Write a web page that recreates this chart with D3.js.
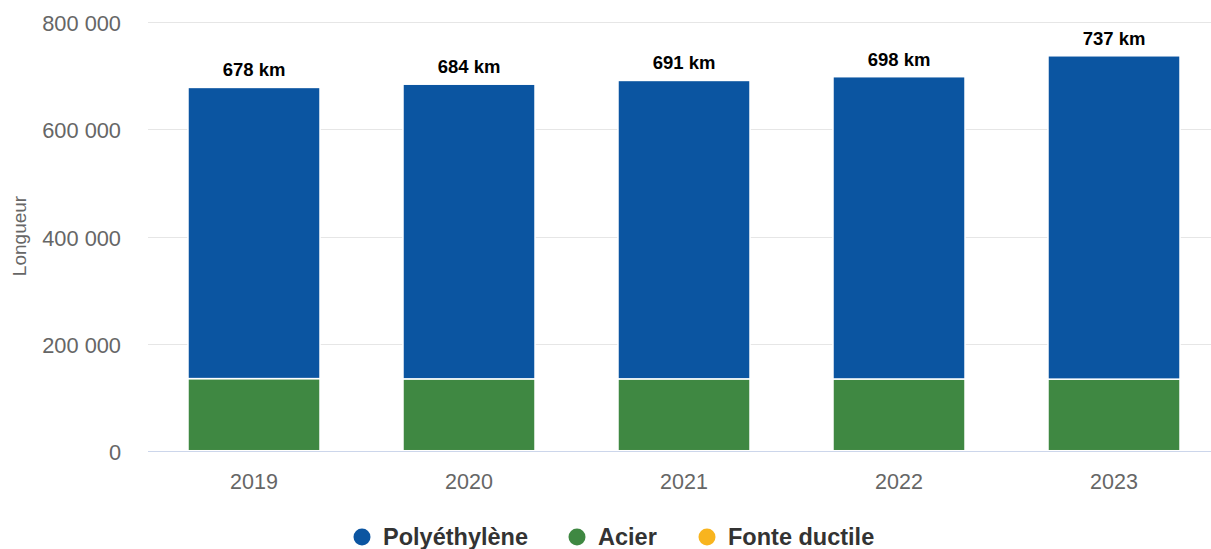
<!DOCTYPE html>
<html>
<head>
<meta charset="utf-8">
<script src="https://cdn.jsdelivr.net/npm/d3@7"></script>
<style>
  body { margin: 0; background: #fff; }
  svg { display: block; font-family: "Liberation Sans", Arial, sans-serif; }
</style>
</head>
<body>
<svg id="chart" width="1211" height="549"></svg>
<script>
// Data
var years = ["2019", "2020", "2021", "2022", "2023"];
var polyethylene = [543000, 549500, 556500, 563700, 603000];
var acier = [134500, 134000, 134000, 133800, 133500];
var fonteDuctile = [500, 500, 500, 500, 500];
var totalLabels = ["678 km", "684 km", "691 km", "698 km", "737 km"];
var yTicks = [0, 200000, 400000, 600000, 800000];

var seriesNames = ["Polyéthylène", "Acier", "Fonte ductile"];
var seriesColors = ["#0b55a1", "#3f8842", "#f8b41e"];

var svg = d3.select("#chart"),
    width = +svg.attr("width"),
    height = +svg.attr("height");

var plotLeft = 146.5, plotRight = 1221.5, plotTop = 22, plotBottom = 451;

var x = d3.scaleBand()
    .domain(years)
    .range([plotLeft, plotRight])
    .paddingInner(0.386)
    .paddingOuter(0.193);

var y = d3.scaleLinear()
    .domain([0, 800000])
    .range([plotBottom, plotTop]);

// rows for the stack
var rows = years.map(function (yr, i) {
    return { year: yr, poly: polyethylene[i], acier: acier[i], fonte: fonteDuctile[i] };
});

// first series sits on top, like the original
var keys = ["fonte", "acier", "poly"];
var keyColor = { poly: seriesColors[0], acier: seriesColors[1], fonte: seriesColors[2] };
var stacked = d3.stack().keys(keys)(rows);

// Gridlines
svg.append("g")
    .selectAll("line")
    .data(yTicks.filter(function (d) { return d > 0; }))
    .enter()
    .append("line")
    .attr("x1", 148)
    .attr("x2", width)
    .attr("y1", function (d) { return Math.round(y(d)) + 0.5; })
    .attr("y2", function (d) { return Math.round(y(d)) + 0.5; })
    .style("stroke", "#e6e6e6")
    .style("stroke-width", 1);

// Y tick labels
svg.append("g")
    .selectAll("text")
    .data(yTicks)
    .enter()
    .append("text")
    .attr("x", 121)
    .attr("y", function (d) { return y(d) + 9; })
    .attr("text-anchor", "end")
    .style("font-size", "21.8px")
    .style("fill", "#666666")
    .text(function (d) { return d3.format(",")(d).replace(/,/g, " "); });

// Y axis title
svg.append("text")
    .attr("transform", "translate(26,236) rotate(-90)")
    .attr("text-anchor", "middle")
    .style("font-size", "19px")
    .style("fill", "#666666")
    .text("Longueur");

// Bars
svg.append("g")
    .selectAll("g")
    .data(stacked)
    .enter()
    .append("g")
    .style("fill", function (s) { return keyColor[s.key]; })
    .selectAll("rect")
    .data(function (s) { return s; })
    .enter()
    .append("rect")
    .attr("x", function (d) { return x(d.data.year); })
    .attr("width", x.bandwidth())
    .attr("y", function (d) { return y(d[1]); })
    .attr("height", function (d) { return Math.max(0, y(d[0]) - y(d[1])); })
    .style("stroke", "#ffffff")
    .style("stroke-width", 1.5);

// X axis line
svg.append("line")
    .attr("x1", 148)
    .attr("x2", width)
    .attr("y1", plotBottom + 0.5)
    .attr("y2", plotBottom + 0.5)
    .style("stroke", "#ccd6eb")
    .style("stroke-width", 1);

// X labels
svg.append("g")
    .selectAll("text")
    .data(years)
    .enter()
    .append("text")
    .attr("x", function (d) { return x(d) + x.bandwidth() / 2; })
    .attr("y", 489)
    .attr("text-anchor", "middle")
    .style("font-size", "21.5px")
    .style("fill", "#666666")
    .text(function (d) { return d; });

// Total labels
svg.append("g")
    .selectAll("text")
    .data(rows)
    .enter()
    .append("text")
    .attr("x", function (d) { return x(d.year) + x.bandwidth() / 2; })
    .attr("y", function (d) { return y(d.poly + d.acier + d.fonte) - 11; })
    .attr("text-anchor", "middle")
    .style("font-size", "18.5px")
    .style("font-weight", "bold")
    .style("fill", "#000000")
    .text(function (d, i) { return totalLabels[i]; });

// Legend
var legendX = [362, 577, 707];
var legend = svg.append("g")
    .selectAll("g")
    .data(seriesNames)
    .enter()
    .append("g")
    .attr("transform", function (d, i) { return "translate(" + legendX[i] + ",537)"; });

legend.append("circle")
    .attr("r", 8.5)
    .style("fill", function (d, i) { return seriesColors[i]; });

legend.append("text")
    .attr("x", 21)
    .attr("y", 8)
    .style("font-size", "23.5px")
    .style("font-weight", "bold")
    .style("fill", "#333333")
    .text(function (d) { return d; });
</script>
</body>
</html>
